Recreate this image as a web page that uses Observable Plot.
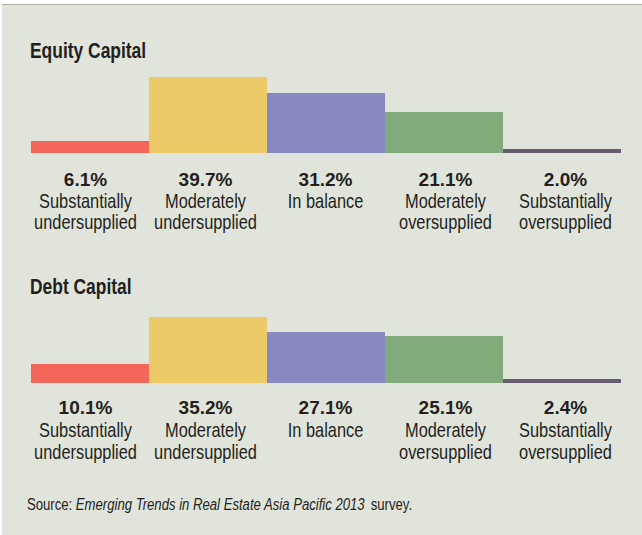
<!DOCTYPE html>
<html>
<head>
<meta charset="utf-8">
<script src="https://cdn.jsdelivr.net/npm/d3@7"></script>
<script src="https://cdn.jsdelivr.net/npm/@observablehq/plot@0.6"></script>
<style>
  html, body { margin: 0; padding: 0; background: #ffffff; }
  #root { position: relative; width: 642px; height: 535px; overflow: hidden; background: #ffffff; }
  #panel { position: absolute; left: 2px; top: 4px; width: 640px; height: 531px; background: #e1e4da; border-top: 1.5px solid #acb0a2; box-sizing: border-box; }
  .title { position: absolute; left: 30px; font-family: "Liberation Sans", Arial, sans-serif; font-weight: bold; font-size: 21.5px; line-height: 21.5px; color: #231f20; white-space: nowrap; transform: scaleX(0.81); transform-origin: 0 0; }
  .source { position: absolute; left: 27px; font-family: "Liberation Sans", Arial, sans-serif; font-size: 16px; line-height: 16px; color: #231f20; white-space: nowrap; transform: scaleX(0.82); transform-origin: 0 0; }
  .source i { padding-right: 3px; }
</style>
</head>
<body>
<div id="root">
  <div id="panel"></div>
</div>
<script>
const categories = ["Substantially undersupplied", "Moderately undersupplied", "In balance", "Moderately oversupplied", "Substantially oversupplied"];
const tickLabels = ["Substantially\nundersupplied", "Moderately\nundersupplied", "In balance", "Moderately\noversupplied", "Substantially\noversupplied"];
const panelTitles = ["Equity Capital", "Debt Capital"];
const equityValues = [6.1, 39.7, 31.2, 21.1, 2.0];
const debtValues = [10.1, 35.2, 27.1, 25.1, 2.4];
const sourcePrefix = "Source: ";
const sourceItalic = "Emerging Trends in Real Estate Asia Pacific 2013";
const sourceSuffix = " survey.";

const barColors = ["#f26659", "#ebca67", "#8889c1", "#82ab7c", "#675c70"];
const sans = "'Liberation Sans', Arial, sans-serif";

const root = document.getElementById("root");

function rows(values) {
  return categories.map((c, i) => ({category: c, value: values[i], label: tickLabels[i]}));
}

function place(el, top) {
  el.style.position = "absolute";
  el.style.left = "0px";
  el.style.top = top + "px";
  root.appendChild(el);
}

function condense(group, s) {
  if (!group) return;
  group.querySelectorAll("text").forEach(t => {
    const tr = t.getAttribute("transform") || "";
    const x = +t.getAttribute("x") || 0;
    t.setAttribute("transform", `${tr} translate(${x},0) scale(${s},1) translate(${-x},0)`);
  });
}

function barPlot(data, height) {
  return Plot.plot({
    width: 642,
    height: height,
    marginLeft: 30,
    marginRight: 20,
    marginTop: 0,
    marginBottom: 0,
    style: {background: "transparent", overflow: "visible"},
    x: {type: "band", domain: categories, padding: 0, axis: null},
    y: {domain: [0, 40], axis: null},
    color: {domain: categories, range: barColors},
    marks: [
      Plot.barY(data, {x: "category", y: "value", fill: "category", shapeRendering: "crispEdges"})
    ]
  });
}

function labelPlot(data, labelDy) {
  const svg = Plot.plot({
    width: 642,
    height: 70,
    marginLeft: 24,
    marginRight: 16,
    marginTop: 0,
    marginBottom: 0,
    style: {background: "transparent", overflow: "visible", color: "#231f20"},
    x: {type: "band", domain: categories, padding: 0, axis: null},
    marks: [
      Plot.text(data, {
        x: "category",
        text: d => d.value.toFixed(1) + "%",
        frameAnchor: "top",
        lineAnchor: "top",
        fontFamily: sans,
        fontWeight: "bold",
        fontSize: 19,
        fill: "#231f20"
      }),
      Plot.text(data, {
        x: "category",
        text: "label",
        frameAnchor: "top",
        lineAnchor: "top",
        dy: labelDy,
        lineHeight: 1.06,
        fontFamily: sans,
        fontSize: 20,
        fill: "#231f20"
      })
    ]
  });
  const groups = svg.querySelectorAll('g[aria-label="text"]');
  condense(groups[1], 0.82);
  return svg;
}

function addTitle(text, top) {
  const d = document.createElement("div");
  d.className = "title";
  d.style.top = top + "px";
  d.textContent = text;
  root.appendChild(d);
}

// Equity panel
addTitle(panelTitles[0], 41.3);
place(barPlot(rows(equityValues), 77), 76);
place(labelPlot(rows(equityValues), 20.5), 172);

// Debt panel
addTitle(panelTitles[1], 276.8);
place(barPlot(rows(debtValues), 75), 308);
place(labelPlot(rows(debtValues), 21.8), 400);

// Source
const src = document.createElement("div");
src.className = "source";
src.style.top = "496.5px";
src.appendChild(document.createTextNode(sourcePrefix));
const it = document.createElement("i");
it.textContent = sourceItalic;
src.appendChild(it);
src.appendChild(document.createTextNode(sourceSuffix));
root.appendChild(src);
</script>
</body>
</html>
